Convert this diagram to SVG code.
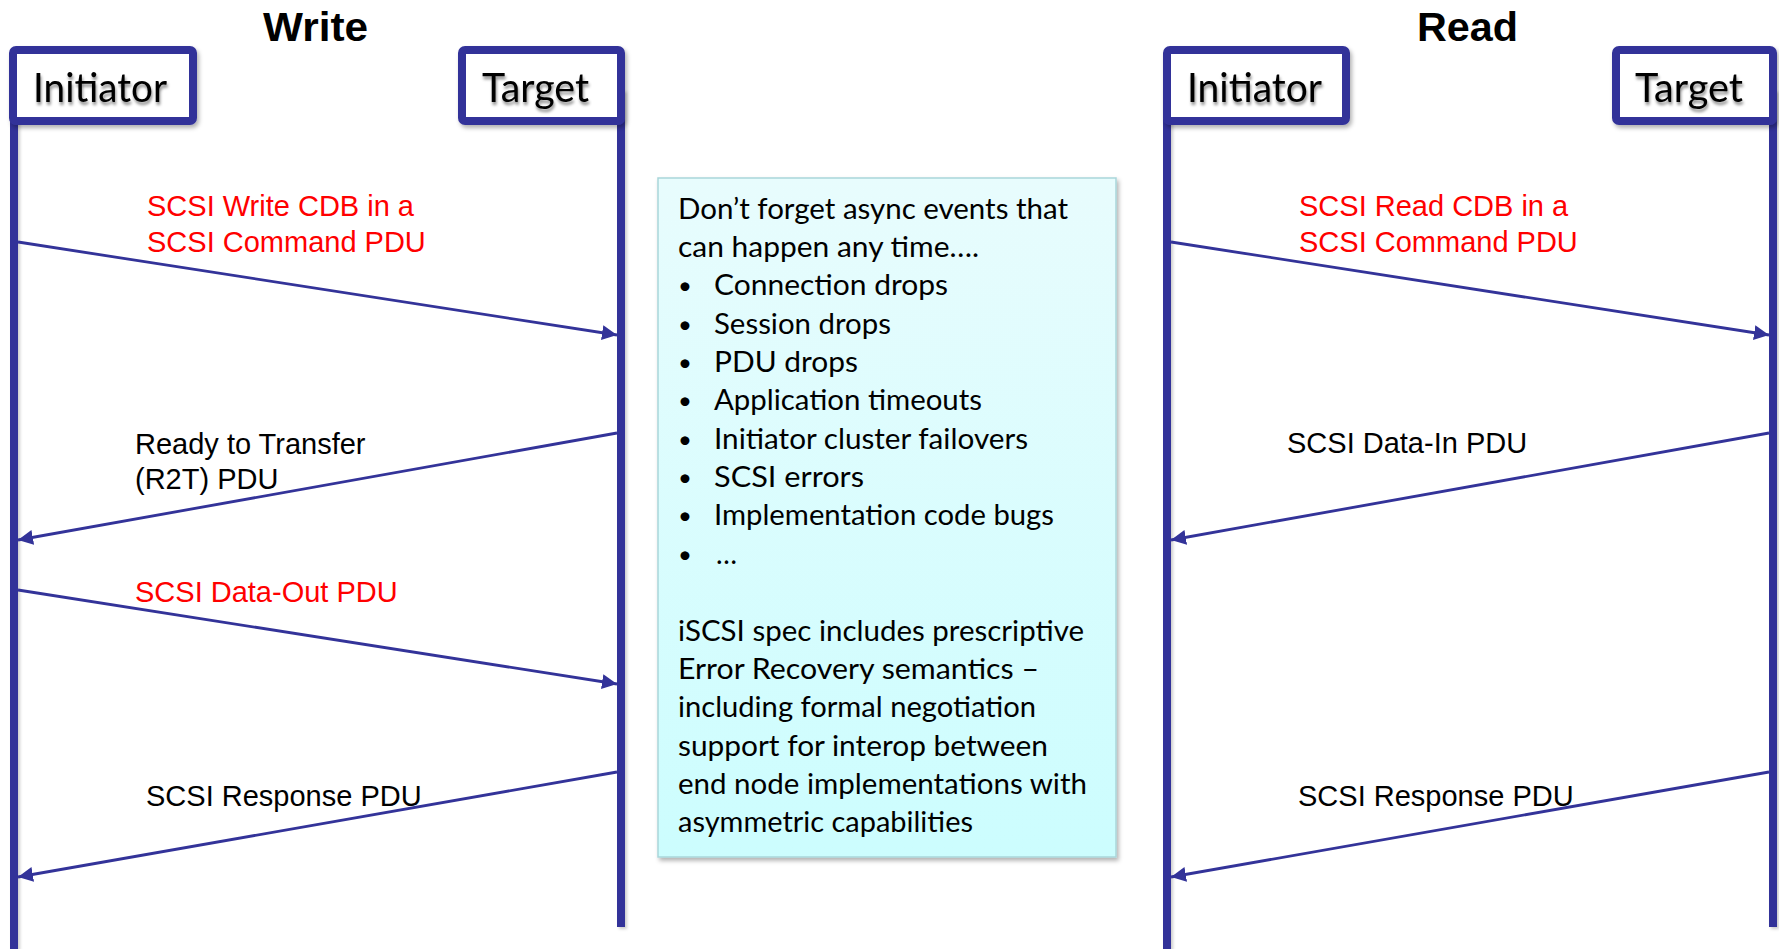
<svg xmlns="http://www.w3.org/2000/svg" width="1779" height="949" viewBox="0 0 1779 949">
  <defs>
    <style>
      .title { font-family: "Liberation Sans", Arial, sans-serif; font-weight: bold; font-size: 41px; fill: #000; }
      .life { fill: #333399; filter: url(#lifeShadow); }
      .box { fill: #ffffff; stroke: #333399; stroke-width: 8; filter: url(#softShadow); }
      .node-label { font-family: Lato, "Open Sans", sans-serif; font-size: 40px; fill: #000; filter: url(#textShadow); }
      .msg { stroke: #333399; stroke-width: 2.8; fill: none; marker-end: url(#arrowHead); }
      .lbl { font-family: "Liberation Sans", Arial, sans-serif; font-size: 29px; fill: #000; }
      .red { fill: #ff0000; }
      .note-box { fill: url(#noteFill); stroke: #a9d6da; stroke-width: 1.5; filter: url(#softShadow); }
      .note-text { font-family: Lato, "Open Sans", sans-serif; font-size: 28px; fill: #000; }
      .bullet { font-family: Lato, "Open Sans", sans-serif; font-size: 24px; fill: #000; }
    </style>
    <marker id="arrowHead" markerUnits="userSpaceOnUse" markerWidth="16" markerHeight="16" refX="15" refY="8" orient="auto">
      <path d="M0,0.5 L15,8 L0,15.5 Z" fill="#333399"/>
    </marker>
    <filter id="softShadow" x="-10%" y="-10%" width="130%" height="130%">
      <feDropShadow dx="2" dy="3" stdDeviation="2" flood-color="#000" flood-opacity="0.3"/>
    </filter>
    <filter id="lifeShadow" filterUnits="userSpaceOnUse" x="0" y="0" width="1779" height="949">
      <feDropShadow dx="2" dy="2" stdDeviation="1.5" flood-color="#000" flood-opacity="0.2"/>
    </filter>
    <filter id="textShadow" x="-10%" y="-20%" width="130%" height="160%">
      <feDropShadow dx="1" dy="3" stdDeviation="1.6" flood-color="#000" flood-opacity="0.45"/>
    </filter>
    <linearGradient id="noteFill" x1="0" y1="0" x2="0" y2="1">
      <stop offset="0" stop-color="#e8fcfd"/>
      <stop offset="1" stop-color="#ccfdfe"/>
    </linearGradient>
  </defs>

  <!-- headings -->
  <g id="titles">
    <text class="title" x="263" y="41" textLength="105" lengthAdjust="spacingAndGlyphs">Write</text>
    <text class="title" x="1417" y="41" textLength="101" lengthAdjust="spacingAndGlyphs">Read</text>
  </g>

  <!-- Write: initiator -->
  <g id="write-initiator">
    <rect class="life" x="10" y="88" width="8" height="861"/>
    <rect class="box" x="13" y="50" width="180" height="71" rx="3"/>
    <text class="node-label" x="33" y="102" textLength="134" lengthAdjust="spacingAndGlyphs">Initiator</text>
  </g>

  <!-- Write: target -->
  <g id="write-target">
    <rect class="life" x="617" y="90" width="8" height="837"/>
    <rect class="box" x="462" y="50" width="159" height="71" rx="3"/>
    <text class="node-label" x="482" y="102" textLength="107" lengthAdjust="spacingAndGlyphs">Target</text>
  </g>

  <!-- Read: initiator -->
  <g id="read-initiator">
    <rect class="life" x="1163" y="88" width="8" height="861"/>
    <rect class="box" x="1167" y="50" width="179" height="71" rx="3"/>
    <text class="node-label" x="1187" y="102" textLength="135" lengthAdjust="spacingAndGlyphs">Initiator</text>
  </g>

  <!-- Read: target -->
  <g id="read-target">
    <rect class="life" x="1769" y="90" width="8" height="837"/>
    <rect class="box" x="1616" y="50" width="157" height="71" rx="3"/>
    <text class="node-label" x="1635" y="102" textLength="108" lengthAdjust="spacingAndGlyphs">Target</text>
  </g>

  <!-- async-events note -->
  <g id="note">
    <rect class="note-box" x="658" y="178" width="458" height="679"/>
    <text class="note-text" x="678" y="219" textLength="390" lengthAdjust="spacingAndGlyphs">Don’t forget async events that</text>
    <text class="note-text" x="678" y="257" textLength="301" lengthAdjust="spacingAndGlyphs">can happen any time….</text>
    <g class="bullet">
      <text x="678" y="294">•</text>
      <text x="678" y="333">•</text>
      <text x="678" y="371">•</text>
      <text x="678" y="409">•</text>
      <text x="678" y="448">•</text>
      <text x="678" y="486">•</text>
      <text x="678" y="524">•</text>
      <text x="678" y="563">•</text>
    </g>
    <text class="note-text" x="714" y="295" textLength="234" lengthAdjust="spacingAndGlyphs">Connection drops</text>
    <text class="note-text" x="714" y="334" textLength="177" lengthAdjust="spacingAndGlyphs">Session drops</text>
    <text class="note-text" x="714" y="372" textLength="144" lengthAdjust="spacingAndGlyphs">PDU drops</text>
    <text class="note-text" x="714" y="410" textLength="268" lengthAdjust="spacingAndGlyphs">Application timeouts</text>
    <text class="note-text" x="714" y="449" textLength="314" lengthAdjust="spacingAndGlyphs">Initiator cluster failovers</text>
    <text class="note-text" x="714" y="487" textLength="150" lengthAdjust="spacingAndGlyphs">SCSI errors</text>
    <text class="note-text" x="714" y="525" textLength="340" lengthAdjust="spacingAndGlyphs">Implementation code bugs</text>
    <text class="note-text" x="716" y="564">…</text>
    <text class="note-text" x="678" y="641" textLength="406" lengthAdjust="spacingAndGlyphs">iSCSI spec includes prescriptive</text>
    <text class="note-text" x="678" y="679" textLength="361" lengthAdjust="spacingAndGlyphs">Error Recovery semantics –</text>
    <text class="note-text" x="678" y="717" textLength="358" lengthAdjust="spacingAndGlyphs">including formal negotiation</text>
    <text class="note-text" x="678" y="756" textLength="370" lengthAdjust="spacingAndGlyphs">support for interop between</text>
    <text class="note-text" x="678" y="794" textLength="409" lengthAdjust="spacingAndGlyphs">end node implementations with</text>
    <text class="note-text" x="678" y="832" textLength="295" lengthAdjust="spacingAndGlyphs">asymmetric capabilities</text>
  </g>

  <!-- message labels -->
  <g id="message-labels">
    <text class="lbl red" x="147" y="216">SCSI Write CDB in a</text>
    <text class="lbl red" x="147" y="252">SCSI Command PDU</text>
    <text class="lbl" x="135" y="454">Ready to Transfer</text>
    <text class="lbl" x="135" y="489">(R2T) PDU</text>
    <text class="lbl red" x="135" y="602">SCSI Data-Out PDU</text>
    <text class="lbl" x="146" y="806">SCSI Response PDU</text>
    <text class="lbl red" x="1299" y="216">SCSI Read CDB in a</text>
    <text class="lbl red" x="1299" y="252">SCSI Command PDU</text>
    <text class="lbl" x="1287" y="453">SCSI Data-In PDU</text>
    <text class="lbl" x="1298" y="806">SCSI Response PDU</text>
  </g>

  <!-- PDU exchanges between the lifelines -->
  <g id="connectors">
    <line class="msg" x1="18" y1="242" x2="617" y2="335"/>
    <line class="msg" x1="617" y1="433" x2="18" y2="540"/>
    <line class="msg" x1="18" y1="590" x2="617" y2="684"/>
    <line class="msg" x1="617" y1="772" x2="18" y2="877"/>
    <line class="msg" x1="1171" y1="242" x2="1769" y2="335"/>
    <line class="msg" x1="1769" y1="433" x2="1171" y2="540"/>
    <line class="msg" x1="1769" y1="772" x2="1171" y2="877"/>
  </g>
</svg>
